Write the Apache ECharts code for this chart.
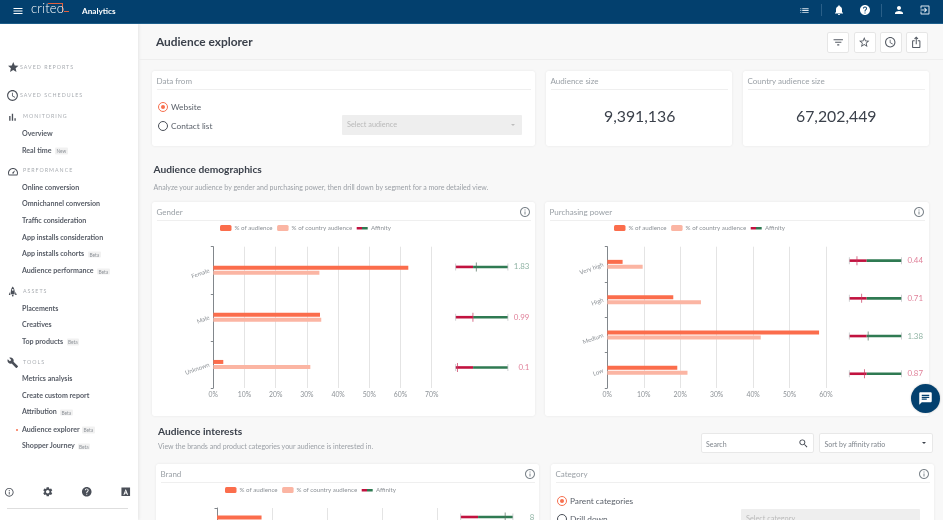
<!DOCTYPE html>
<html><head><meta charset="utf-8">
<script src="https://cdn.jsdelivr.net/npm/echarts@6/dist/echarts.min.js"></script>
<style>
*{box-sizing:border-box}
html,body{margin:0;padding:0;width:943px;height:520px;overflow:hidden;background:#f8f8f8;font-family:Lato,"Noto Sans",sans-serif;color:#3c424c}
#page{position:absolute;left:0;top:0;width:943px;height:520px;overflow:hidden;filter:blur(.35px)}
.a{position:absolute;white-space:nowrap;line-height:1}
.v{transform:translateY(-50%)}
#top{position:absolute;left:0;top:0;width:943px;height:24px;background:#03406e;border-bottom:1px solid #1d5f8c}
#side{position:absolute;left:0;top:24px;width:138px;height:496px;background:#fff;box-shadow:1px 0 3px rgba(0,0,0,.08)}
#headline{position:absolute;left:138px;top:59px;width:805px;height:1px;background:#eeeeee}
.card{position:absolute;background:#fff;border-radius:3px;box-shadow:0 0 3px rgba(0,0,0,.07)}
.card .t{position:absolute;left:4.5px;top:5.5px;font-size:8px;color:#9aa0a6;line-height:1}
.card .d{position:absolute;left:4.5px;right:4.5px;top:18px;height:1px;background:#efefef}
.btn{position:absolute;top:31.5px;width:22px;height:21px;background:#fff;border:1px solid #e6e6e6;border-radius:2px}
.radio{position:absolute;width:10px;height:10px;border-radius:50%;border:1.2px solid #4a4f58}
.radio.on{border-color:#f7704f}
.radio.on:after{content:"";position:absolute;left:1.6px;top:1.6px;width:4.4px;height:4.4px;border-radius:50%;background:#f7704f}
.sel{position:absolute;background:#eeeeee;border-radius:1px;font-size:7.3px;color:#bcbcbc}
.box{position:absolute;background:#fff;border:1px solid #e8e8e8;border-radius:2px;font-size:7px;color:#8b9097}
.sec{font-size:5.3px;letter-spacing:1px;color:#a9adb2}
.item{font-size:7.1px;color:#444a55;font-weight:700;opacity:.9}
.tag{font-size:4.8px;color:#8f949a;background:#f1f1f1;padding:1px 1.5px;border-radius:1px}
svg.i{position:absolute;display:block}
#chart{position:absolute;left:0;top:0;width:943px;height:520px}
#chat{position:absolute;left:910.5px;top:383.5px;width:29px;height:29px;border-radius:50%;background:#03406e;box-shadow:0 0 2px rgba(0,0,0,.25)}
</style></head><body><div id="page">
<div id="top"></div><div id="side"></div><div id="headline"></div>
<div id="chart"></div>
<div id="chat"></div>
</div>
<script>
// ---------- chart data ----------
var genderCategories = ['Female', 'Male', 'Unknown'];
var genderAudience = [62.5, 34.2, 3.2];
var genderCountry = [34, 34.6, 31.1];
var genderAffinity = [1.83, 0.99, 0.1];
var powerCategories = ['Very high', 'High', 'Medium', 'Low'];
var powerAudience = [4.2, 18.1, 58.1, 19.2];
var powerCountry = [9.7, 25.7, 42.1, 22];
var powerAffinity = [0.44, 0.71, 1.38, 0.87];
var brandCategories = [''];
var brandAudience = [8.1];
var brandCountry = [1];
var brandAffinity = [8];
var legendNames = ['% of audience', '% of country audience', 'Affinity'];

// ---------- page text ----------
var sidebar = [
 ['sec','SAVED REPORTS',20,67.5],['sec','SAVED SCHEDULES',20,95.5],['sec','MONITORING',23,117],
 ['item','Overview',22,133.5],['item','Real time',22,150.5,'New',55],
 ['sec','PERFORMANCE',23,171],['item','Online conversion',22,187.5],['item','Omnichannel conversion',22,204],
 ['item','Traffic consideration',22,220.5],['item','App installs consideration',22,237.5],
 ['item','App installs cohorts',22,254,'Beta',88],['item','Audience performance',22,271,'Beta',97],
 ['sec','ASSETS',23,292],['item','Placements',22,308.5],['item','Creatives',22,325],['item','Top products',22,341.5,'Beta',66.5],
 ['sec','TOOLS',23,363],['item','Metrics analysis',22,379],['item','Create custom report',22,395.5],
 ['item','Attribution',22,412,'Beta',60],['item','Audience explorer',22,429.5,'Beta',82],['item','Shopper Journey',22,446,'Beta',77.5]
];
var cards = [
 ['Data from',152,71,383,75],['Audience size',546,71,186,75],['Country audience size',743,71,186,75],
 ['Gender',152,202,383,214],['Purchasing power',545,202,384,214],
 ['Brand',156,464,383,70],['Category',551,464,383,70]
];

// ---------- icons ----------
var P = {
 menu:'M3 18h18v-2H3v2zm0-5h18v-2H3v2zm0-7v2h18V6H3z',
 star:'M12 17.27L18.18 21l-1.64-7.03L22 9.24l-7.19-.61L12 2 9.19 8.63 2 9.24l5.46 4.73L5.82 21z',
 starb:'M22 9.24l-7.19-.62L12 2 9.19 8.63 2 9.24l5.46 4.73L5.82 21 12 17.27 18.18 21l-1.63-7.03L22 9.24zM12 15.4l-3.76 2.27 1-4.28-3.32-2.88 4.38-.38L12 6.1l1.71 4.04 4.38.38-3.32 2.88 1 4.28L12 15.4z',
 clock:'M11.99 2C6.47 2 2 6.48 2 12s4.47 10 9.99 10C17.52 22 22 17.52 22 12S17.52 2 11.99 2zM12 20c-4.42 0-8-3.58-8-8s3.58-8 8-8 8 3.58 8 8-3.58 8-8 8zm.5-13H11v6l5.25 3.15.75-1.23-4.5-2.67z',
 bell:'M12 22c1.1 0 2-.9 2-2h-4c0 1.1.89 2 2 2zm6-6v-5c0-3.07-1.64-5.64-4.5-6.32V4c0-.83-.67-1.5-1.5-1.5s-1.5.67-1.5 1.5v.68C7.63 5.36 6 7.92 6 11v5l-2 2v1h16v-1l-2-2z',
 help:'M12 2C6.48 2 2 6.48 2 12s4.48 10 10 10 10-4.48 10-10S17.52 2 12 2zm1 17h-2v-2h2v2zm2.07-7.75l-.9.92C13.45 12.9 13 13.5 13 15h-2v-.5c0-1.1.45-2.1 1.17-2.83l1.24-1.26c.37-.36.59-.86.59-1.41 0-1.1-.9-2-2-2s-2 .9-2 2H8c0-2.21 1.79-4 4-4s4 1.79 4 4c0 .88-.36 1.68-.93 2.25z',
 person:'M12 12c2.21 0 4-1.79 4-4s-1.79-4-4-4-4 1.79-4 4 1.79 4 4 4zm0 2c-2.67 0-8 1.34-8 4v2h16v-2c0-2.66-5.33-4-8-4z',
 exit:'M10.09 15.59L11.5 17l5-5-5-5-1.41 1.41L12.67 11H3v2h9.67l-2.58 2.59zM19 3H5c-1.11 0-2 .9-2 2v4h2V5h14v14H5v-4H3v4c0 1.1.89 2 2 2h14c1.1 0 2-.9 2-2V5c0-1.1-.9-2-2-2z',
 info:'M11 17h2v-6h-2v6zm1-15C6.48 2 2 6.48 2 12s4.48 10 10 10 10-4.48 10-10S17.52 2 12 2zm0 18c-4.41 0-8-3.59-8-8s3.59-8 8-8 8 3.59 8 8-3.59 8-8 8zM11 9h2V7h-2v2z',
 gear:'M19.14 12.94c.04-.3.06-.61.06-.94 0-.32-.02-.64-.07-.94l2.03-1.58c.18-.14.23-.41.12-.61l-1.92-3.32c-.12-.22-.37-.29-.59-.22l-2.39.96c-.5-.38-1.03-.7-1.62-.94l-.36-2.54c-.04-.24-.24-.41-.48-.41h-3.84c-.24 0-.43.17-.47.41l-.36 2.54c-.59.24-1.13.57-1.62.94l-2.39-.96c-.22-.08-.47 0-.59.22L2.74 8.87c-.12.21-.08.47.12.61l2.03 1.58c-.05.3-.09.63-.09.94s.02.64.07.94l-2.03 1.58c-.18.14-.23.41-.12.61l1.92 3.32c.12.22.37.29.59.22l2.39-.96c.5.38 1.03.7 1.62.94l.36 2.54c.05.24.24.41.48.41h3.84c.24 0 .44-.17.47-.41l.36-2.54c.59-.24 1.13-.56 1.62-.94l2.39.96c.22.08.47 0 .59-.22l1.92-3.32c.12-.22.07-.47-.12-.61l-2.01-1.58zM12 15.6c-1.98 0-3.6-1.62-3.6-3.6s1.62-3.6 3.6-3.6 3.6 1.62 3.6 3.6-1.62 3.6-3.6 3.6z',
 search:'M15.5 14h-.79l-.28-.27C15.41 12.59 16 11.11 16 9.5 16 5.91 13.09 3 9.5 3S3 5.91 3 9.5 5.91 16 9.5 16c1.61 0 3.09-.59 4.23-1.57l.27.28v.79l5 4.99L20.49 19l-4.99-5zm-6 0C7.01 14 5 11.99 5 9.5S7.01 5 9.5 5 14 7.01 14 9.5 11.99 14 9.5 14z',
 chat:'M20 2H4c-1.1 0-2 .9-2 2v18l4-4h14c1.1 0 2-.9 2-2V4c0-1.1-.9-2-2-2zM6 9h12v2H6V9zm8 5H6v-2h8v2zm4-6H6V6h12v2z',
 filter:'M10 18h4v-2h-4v2zM3 6v2h18V6H3zm3 7h12v-2H6v2z',
 list:'M3 13h2v-2H3v2zm0 4h2v-2H3v2zm0-8h2V7H3v2zm4 4h14v-2H7v2zm0 4h14v-2H7v2zM7 7v2h14V7H7z',
 wrench:'M22.7 19l-9.1-9.1c.9-2.3.4-5-1.5-6.9-2-2-5-2.4-7.4-1.3L9 6 6 9 1.6 4.7C.4 7.1.9 10.1 2.9 12.1c1.9 1.9 4.6 2.4 6.9 1.5l9.1 9.1c.4.4 1 .4 1.4 0l2.3-2.3c.5-.4.5-1.1.1-1.4z',
 share:'M16 5l-1.42 1.42-1.59-1.59V16h-1.98V4.83L9.42 6.42 8 5l4-4 4 4zm4 5v11c0 1.1-.9 2-2 2H6c-1.11 0-2-.9-2-2V10c0-1.11.89-2 2-2h3v2H6v11h12V10h-3V8h3c1.1 0 2 .89 2 2z',
 bars:'M5 9h3v11H5zM11 4h3v16h-3zM17 14h3v6h-3z',
 gauge:'M12 4C6.5 4 2 8.5 2 14c0 1.9.5 3.6 1.4 5h17.2c.9-1.4 1.4-3.1 1.4-5 0-5.5-4.5-10-10-10zm7.4 13H4.6c-.4-.9-.6-2-.6-3 0-4.4 3.6-8 8-8s8 3.6 8 8c0 1-.2 2.1-.6 3zM16.5 8.5l-5.3 4.2c-.7.6-.7 1.5-.2 2.1.6.6 1.5.6 2.1 0z',
 rocket:'M12 1C9 4 8 8 8 12v5h8v-5c0-4-1-8-4-11zm0 9a2 2 0 110-4 2 2 0 010 4zM6.5 12L4 17v2h3zM17.5 12l2.5 5v2h-3zM10 18h4l-1 4h-2z',
 abox:'M3 3h18v18H3zm9 3l-5 12h2.4l1-2.6h3.2l1 2.6H17L12 6zm0 4.5l1 3h-2z'
};
var page=document.getElementById('page');
function icon(name,cx,cy,size,color,parent){
  var s=document.createElementNS('http://www.w3.org/2000/svg','svg');
  s.setAttribute('viewBox','0 0 24 24');s.setAttribute('class','i');
  s.style.left=(cx-size/2)+'px';s.style.top=(cy-size/2)+'px';s.style.width=size+'px';s.style.height=size+'px';
  var p=document.createElementNS('http://www.w3.org/2000/svg','path');
  p.setAttribute('d',P[name]);p.setAttribute('fill',color);p.setAttribute('fill-rule','evenodd');s.appendChild(p);
  (parent||page).appendChild(s);return s;
}
function txt(s,x,y,style,cls){
  var d=document.createElement('div');d.className='a v '+(cls||'');d.textContent=s;
  d.style.left=x+'px';d.style.top=y+'px';d.style.cssText+=';'+(style||'');page.appendChild(d);return d;
}
function el(cls,x,y,w,h,style){
  var d=document.createElement('div');d.className=cls;d.style.left=x+'px';d.style.top=y+'px';
  if(w!=null)d.style.width=w+'px';if(h!=null)d.style.height=h+'px';d.style.cssText+=';'+(style||'');
  page.insertBefore(d,document.getElementById('chart'));return d;
}
// cards
cards.forEach(function(c){
  var d=el('card',c[1],c[2],c[3],c[4]);
  d.innerHTML='<div class="t"></div><div class="d"></div>';d.firstChild.textContent=c[0];
});
// header
icon('menu',18,10.7,12,'#fff');
txt('criteo',31,8.4,'font-size:13px;color:#fff;font-weight:300;letter-spacing:.2px');
el('a',62,3.5,1,8,'position:absolute;background:#e0603f;width:1px');
el('a',48,3,15,1,'position:absolute;background:#e0603f');
el('a',64,11,5,1,'position:absolute;background:#e0603f;width:5px');
txt('Analytics',82,10.8,'font-size:8.2px;color:#fff;font-weight:700');
icon('list',804,10.5,11,'#dfe8ef');
el('a',821,4,1,12,'position:absolute;background:#2a5f88');
icon('bell',838.5,10.3,12,'#fff');icon('help',864.5,10.3,12,'#fff');
el('a',881,4,1,13,'position:absolute;background:#2a5f88');
icon('person',898.5,10.3,12,'#fff');icon('exit',924.5,10.3,12,'#dfe8ef');
// title row
txt('Audience explorer',156,42,'font-size:11.9px;font-weight:700;color:#3b414b');
[[827,'filter'],[853.5,'starb'],[879.5,'clock'],[905.5,'share']].forEach(function(b){
  el('btn',b[0],31.5);icon(b[1],b[0]+11,42,12.5,'#555b64');
});
// data from
el('radio on',158,102,10,10);el('radio',158,121,10,10);
txt('Website',171,107.2,'font-size:8.3px;color:#5c626b');
txt('Contact list',171,125.8,'font-size:8.3px;color:#5c626b');
el('sel',342,115,179.5,19.5);
txt('Select audience',347,124.8,'font-size:7.3px;color:#b9b9b9');
el('a',511,123.5,0,0,'position:absolute;border:2.2px solid transparent;border-top:2.6px solid #bdbdbd');
txt('9,391,136',604,116,'font-size:15.8px;color:#3b414b');
txt('67,202,449',796,116,'font-size:15.8px;color:#3b414b');
// section headings
txt('Audience demographics',153.5,169.3,'font-size:10.2px;font-weight:700;color:#3b414b');
txt('Analyze your audience by gender and purchasing power, then drill down by segment for a more detailed view.',153.5,188,'font-size:7.03px;color:#9a9fa5');
txt('Audience interests',158,431,'font-size:10.2px;font-weight:700;color:#3b414b');
txt('View the brands and product categories your audience is interested in.',158,445.5,'font-size:7px;color:#9a9fa5');
el('box',701,433,113,20);txt('Search',706,443.5,'font-size:7px;color:#7f858c');icon('search',803,443.5,11,'#3b414b');
el('box',819,433,114,20);txt('Sort by affinity ratio',824.5,443.5,'font-size:7px;color:#7f858c');
el('a',922,442,0,0,'position:absolute;border:2.4px solid transparent;border-top:2.8px solid #3b414b');
icon('info',525,212,12,'#7d858c');icon('info',919,212,12,'#7d858c');icon('info',530,474,12,'#7d858c');icon('info',924,474,12,'#7d858c');
// category card
el('radio on',557,496,10,10);el('radio',557,514,10,10);
txt('Parent categories',570,501.3,'font-size:8.3px;color:#5c626b');
txt('Drill down',570,519.3,'font-size:8.3px;color:#5c626b');
el('sel',741,509,179,20);
txt('Select category',746,518.5,'font-size:7.3px;color:#b9b9b9');
// sidebar
sidebar.forEach(function(r){
  txt(r[1],r[2],r[3],'',r[0]);
  if(r[4])txt(r[4],r[5],r[3]+.5,'',' tag');
});
el('a',15.5,428.5,2.2,2.2,'position:absolute;border-radius:50%;background:#f7704f');
icon('star',13,67.5,12.5,'#4a4f58');icon('clock',12.5,95,13,'#4a4f58');
icon('bars',12.5,117,10.5,'#4a4f58');icon('gauge',12.5,171.5,12,'#4a4f58');
icon('rocket',12.5,292,11.5,'#4a4f58');icon('wrench',12.5,362.5,11.5,'#4a4f58');
icon('info',9,492,10.5,'#4a4f58');icon('gear',47.5,492,11.5,'#4a4f58');icon('help',87,492,11.5,'#4a4f58');icon('abox',126,492,11.5,'#4a4f58');
el('a',7,508,121,1,'position:absolute;background:#dedede');
icon('chat',14.5,15,15,'#fff',document.getElementById('chat'));

// ---------- chart ----------
var CORAL='#fb6d4c', PINK='#fbb5a3', RED='#c1123f', GREEN='#2f7a52', GREY='#8d9297';
var LABEL_GOOD='#6f9e89', LABEL_BAD='#d8607f';
var AFF_MAX=3, AFF_SPLIT=1, AFF_TOP=10;
// the affinity gauge is piecewise: 0-1 takes a third of the track, 1-10 the rest
function affinityPos(v){return v<=AFF_SPLIT?v:AFF_SPLIT+(v-AFF_SPLIT)*(AFF_MAX-AFF_SPLIT)/(AFF_TOP-AFF_SPLIT);}
var grids=[],xAxes=[],yAxes=[],series=[],legends=[];
var legendIcon='path://M0,0h11v0h-11zM0,2h11v2.4h-11zM0,6h11v0h-11z';
var legendGrad=new echarts.graphic.LinearGradient(0,0,1,0,[{offset:0,color:RED},{offset:.45,color:RED},{offset:.45,color:GREEN},{offset:1,color:GREEN}]);
function panel(o){
  var g=grids.length;
  grids.push({left:o.left,top:o.top,width:o.width,height:o.height,outerBoundsMode:'none'});
  xAxes.push({gridIndex:g,type:'value',min:0,max:o.max,interval:10,
    axisLine:{show:false},axisTick:{show:false},
    axisLabel:{formatter:'{value}%',fontSize:6.8,color:GREY,margin:3,fontFamily:'Lato',showMaxLabel:true,showMinLabel:true},
    splitLine:{show:true,lineStyle:{color:'#e4e4e4',width:1}}});
  yAxes.push({gridIndex:g,type:'category',inverse:true,data:o.cats,
    axisLine:{show:true,lineStyle:{color:'#82878c',width:1}},
    axisTick:{show:true,length:2.5,alignWithLabel:false,lineStyle:{color:'#82878c'}},
    axisLabel:{rotate:20,fontSize:6,color:GREY,margin:4,fontFamily:'Lato',interval:0}});
  series.push({name:legendNames[0],type:'bar',xAxisIndex:g,yAxisIndex:g,data:o.audience,barWidth:4,barGap:'25%',itemStyle:{color:CORAL},silent:true,animation:false});
  series.push({name:legendNames[1],type:'bar',xAxisIndex:g,yAxisIndex:g,data:o.country,barWidth:4,barGap:'25%',itemStyle:{color:PINK},silent:true,animation:false});
  var a=grids.length;
  grids.push({left:o.affLeft,top:o.affTop,width:52.2,height:o.affHeight,outerBoundsMode:'none'});
  xAxes.push({gridIndex:a,type:'value',min:0,max:AFF_MAX,show:false});
  yAxes.push({gridIndex:a,type:'category',inverse:true,data:o.cats,show:false});
  var st='s'+a;
  series.push({name:legendNames[2],type:'bar',stack:st,xAxisIndex:a,yAxisIndex:a,barWidth:2.6,itemStyle:{color:RED},silent:true,animation:false,
    data:o.cats.map(function(){return AFF_SPLIT;})});
  series.push({name:'Affinity above 1',type:'bar',stack:st,xAxisIndex:a,yAxisIndex:a,barWidth:2.6,itemStyle:{color:GREEN},silent:true,animation:false,
    data:o.cats.map(function(){return AFF_MAX-AFF_SPLIT;})});
  var ends=[];o.cats.forEach(function(c,i){ends.push([0,i],[AFF_MAX,i]);});
  series.push({name:'Affinity range',type:'scatter',xAxisIndex:a,yAxisIndex:a,symbol:'rect',symbolSize:[.8,7],itemStyle:{color:'#b5b8bb'},silent:true,animation:false,data:ends});
  series.push({name:'Affinity value',type:'scatter',xAxisIndex:a,yAxisIndex:a,symbol:'rect',symbolSize:[.9,9],silent:true,animation:false,z:5,
    itemStyle:{color:function(p){return o.aff[p.dataIndex]>=1?'#54705f':'#c8395f';}},
    data:o.aff.map(function(v,i){return [affinityPos(v),i];})});
  series.push({name:'Affinity label',type:'scatter',xAxisIndex:a,yAxisIndex:a,symbolSize:0,silent:true,animation:false,
    label:{show:true,position:'right',fontSize:7.9,fontFamily:'Lato',align:'right',offset:[16.5,0],
      formatter:function(p){return String(o.aff[p.dataIndex]);}},
    data:o.aff.map(function(v,i){return {value:[AFF_MAX,i],label:{color:v>=1?LABEL_GOOD:LABEL_BAD}};})});
  legends.push({show:true,left:o.legendLeft,top:o.legendTop,itemWidth:11.5,itemHeight:6,itemGap:4.5,padding:0,
    selectedMode:false,textStyle:{fontSize:6.2,color:GREY,fontFamily:'Lato',padding:[0,0,0,-2]},
    data:[{name:legendNames[0],icon:'roundRect'},{name:legendNames[1],icon:'roundRect'},
          {name:legendNames[2],icon:legendIcon,itemStyle:{color:legendGrad}}]});
}
panel({left:213.3,top:246.7,width:218.4,height:141.3,max:70,cats:genderCategories,audience:genderAudience,country:genderCountry,aff:genderAffinity,
  affLeft:455.7,affTop:241.8,affHeight:150.8,legendLeft:220,legendTop:225});
panel({left:607.3,top:246.7,width:218.7,height:141.3,max:60,cats:powerCategories,audience:powerAudience,country:powerCountry,aff:powerAffinity,
  affLeft:849.3,affTop:241.8,affHeight:150.8,legendLeft:614,legendTop:225});
panel({left:217,top:508,width:220,height:24,max:40,cats:brandCategories,audience:brandAudience,country:brandCountry,aff:brandAffinity,
  affLeft:460.7,affTop:505,affHeight:24,legendLeft:225,legendTop:487});
var chart=echarts.init(document.getElementById('chart'),null,{renderer:'canvas'});
chart.setOption({animation:false,backgroundColor:'transparent',tooltip:{show:false},grid:grids,xAxis:xAxes,yAxis:yAxes,series:series,legend:legends});
</script></body></html>
